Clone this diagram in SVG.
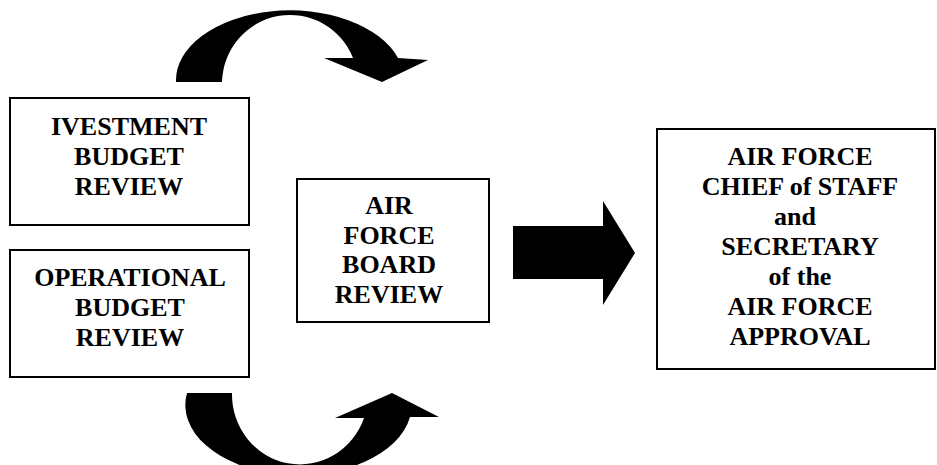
<svg xmlns="http://www.w3.org/2000/svg" width="937" height="465" viewBox="0 0 937 465">
<style>
.box{fill:#fff;stroke:#000;stroke-width:2}
.t{font-family:"Liberation Serif","Times New Roman",serif;font-weight:bold;font-size:26px;text-anchor:middle;fill:#000}
.arr{fill:#000;stroke:none}
</style>
<rect width="937" height="465" fill="#fff"/>
<g id="connectors">
<path class="arr" d="M176,82 A114,70 0 0 1 398,58 L428,60 L382,82 L324,58 L353,58 A68,69 0 0 0 222,82 Z"/>
<path class="arr" d="M187,393 A113,70 0 0 0 410,417 L439,417 L392,393 L335,418 L364,418 A68,70 0 0 1 232,393 Z"/>
<path class="arr" d="M513,226 L603,226 L603,201 L635,253 L603,305 L603,279 L513,279 Z"/>
</g>
<g id="investment">
<rect class="box" x="10" y="98" width="239" height="127"/>
<text class="t" x="129" y="135">IVESTMENT</text>
<text class="t" x="129" y="165">BUDGET</text>
<text class="t" x="129" y="195">REVIEW</text>
</g>
<g id="operational">
<rect class="box" x="10" y="250" width="239" height="127"/>
<text class="t" x="130" y="286">OPERATIONAL</text>
<text class="t" x="130" y="316">BUDGET</text>
<text class="t" x="130" y="346">REVIEW</text>
</g>
<g id="board">
<rect class="box" x="297" y="179" width="192" height="143"/>
<text class="t" x="389" y="214">AIR</text>
<text class="t" x="389" y="243.5">FORCE</text>
<text class="t" x="389" y="273">BOARD</text>
<text class="t" x="389" y="302.5">REVIEW</text>
</g>
<g id="approval">
<rect class="box" x="657" y="129" width="278" height="240"/>
<text class="t" x="800" y="165">AIR FORCE</text>
<text class="t" x="800" y="195">CHIEF of STAFF</text>
<text class="t" x="795" y="225">and</text>
<text class="t" x="800" y="255">SECRETARY</text>
<text class="t" x="800" y="285">of the</text>
<text class="t" x="800" y="315">AIR FORCE</text>
<text class="t" x="800" y="345">APPROVAL</text>
</g>
</svg>
